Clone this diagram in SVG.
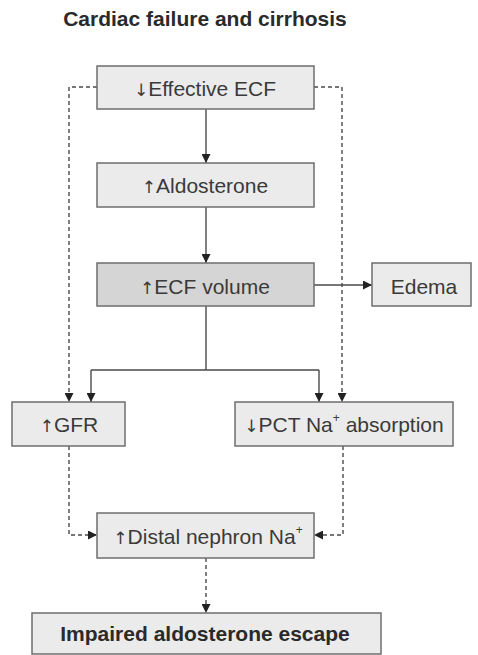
<svg xmlns="http://www.w3.org/2000/svg" width="478" height="655" viewBox="0 0 478 655">
<style>
text{font-family:"Liberation Sans",Arial,sans-serif;font-size:21px;fill:#3a3a3a;text-anchor:middle}
.b{font-weight:bold;fill:#2a2a2a}
.ar{font-family:"DejaVu Sans",sans-serif;font-size:17px;fill:#3a3a3a}
.box{fill:#ebebeb;stroke:#6e6e6e;stroke-width:1.5}
.dark{fill:#d5d5d5}
.c{fill:none;stroke:#4a4a4a;stroke-width:1.4}
.d{stroke-dasharray:4 3}
.sup{font-size:12px}
</style>
<defs>
<marker id="ah" viewBox="0 0 10 10" refX="10" refY="5" markerWidth="9" markerHeight="9" markerUnits="userSpaceOnUse" orient="auto">
<path d="M0,0 L10,5 L0,10 Z" fill="#222"/>
</marker>
</defs>
<text class="b" x="205" y="26">Cardiac failure and cirrhosis</text>
<g id="connectors">
<path class="c" d="M206,109 V163" marker-end="url(#ah)"/>
<path class="c" d="M206,207 V263" marker-end="url(#ah)"/>
<path class="c" d="M314,285 H372" marker-end="url(#ah)"/>
<path class="c" d="M206,306 V370 M91,370 H319"/>
<path class="c" d="M91,370 V402" marker-end="url(#ah)"/>
<path class="c" d="M319,370 V402" marker-end="url(#ah)"/>
<path class="c d" d="M97,87 H69 V402" marker-end="url(#ah)"/>
<path class="c d" d="M314,87 H342 V402" marker-end="url(#ah)"/>
<path class="c d" d="M69,446 V535 H97" marker-end="url(#ah)"/>
<path class="c d" d="M343,446 V535 H314" marker-end="url(#ah)"/>
<path class="c d" d="M206,558 V613" marker-end="url(#ah)"/>
</g>
<g id="effective-ecf"><rect class="box" x="97" y="66" width="217" height="43"/><text x="205" y="96"><tspan class="ar">↓</tspan>Effective ECF</text></g>
<g id="aldosterone"><rect class="box" x="97" y="163" width="217" height="44"/><text x="205" y="193"><tspan class="ar">↑</tspan>Aldosterone</text></g>
<g id="ecf-volume"><rect class="box dark" x="97" y="263" width="217" height="43"/><text x="205" y="294"><tspan class="ar">↑</tspan>ECF volume</text></g>
<g id="edema"><rect class="box" x="372" y="263" width="99" height="43"/><text x="424" y="294">Edema</text></g>
<g id="gfr"><rect class="box" x="12" y="402" width="113" height="44"/><text x="69" y="432"><tspan class="ar">↑</tspan>GFR</text></g>
<g id="pct"><rect class="box" x="235" y="402" width="218" height="44"/><text x="344" y="432"><tspan class="ar">↓</tspan>PCT Na<tspan class="sup" dy="-10">+</tspan><tspan dy="10"> absorption</tspan></text></g>
<g id="distal"><rect class="box" x="97" y="513" width="217" height="45"/><text x="208" y="544"><tspan class="ar">↑</tspan>Distal nephron Na<tspan class="sup" dy="-10">+</tspan></text></g>
<g id="impaired"><rect class="box" x="32" y="613" width="349" height="41"/><text class="b" x="205" y="641">Impaired aldosterone escape</text></g>
</svg>
